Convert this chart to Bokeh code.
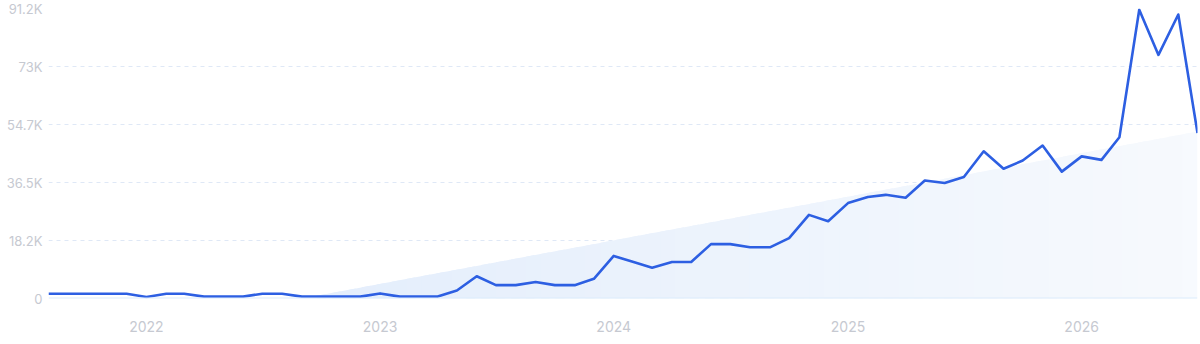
import pandas as pd
import numpy as np
from bokeh.plotting import figure
from bokeh.models import FixedTicker, Range1d, Span, CustomJSTickFormatter
from bokeh.embed import file_html
from bokeh.resources import INLINE

# ---- data ----
start_month = "2021-08-01"
values = [1500, 1500, 1500, 1500, 1500,
          500, 1500, 1500, 600, 600, 600, 1500, 1500, 600, 600, 600, 600,
          1600, 600, 600, 600, 2500, 7000, 4200, 4200, 5200, 4200, 4200, 6200,
          13400, 11500, 9700, 11500, 11500, 17100, 17100, 16100, 16100, 19000, 26300, 24300,
          30000, 31900, 32600, 31700, 37100, 36300, 38200, 46300, 40800, 43400, 48100, 39900,
          44700, 43600, 50700, 90800, 76600, 89300, 52000]
months = pd.date_range(start_month, periods=len(values), freq="MS")

trend_dates = ["2022-09-01", "2026-07-01"]
trend_values = [0, 52500]

y_ticks = [0, 18240, 36480, 54720, 72960, 91200]
y_labels = ["0", "18.2K", "36.5K", "54.7K", "73K", "91.2K"]
x_tick_dates = ["2022-01-01", "2023-01-01", "2024-01-01", "2025-01-01", "2026-01-01"]
x_labels = ["2022", "2023", "2024", "2025", "2026"]

# ---- figure ----
p = figure(width=1200, height=344, x_axis_type="datetime",
           output_backend="svg", toolbar_location=None,
           min_border_left=48, min_border_right=3, min_border_top=8, min_border_bottom=46)
p.x_range = Range1d(months[0], months[-1])
p.y_range = Range1d(0, 91200)
p.outline_line_color = None
p.background_fill_color = "white"
p.border_fill_color = "white"

# gradient-like trend fill via strips
t0 = pd.Timestamp(trend_dates[0]).value / 1e6
t1 = pd.Timestamp(trend_dates[1]).value / 1e6
N = 60
c0 = np.array([0xe4, 0xee, 0xfc])
c1 = np.array([0xf7, 0xfa, 0xfe])
edges = np.linspace(t0, t1, N + 1)
w = edges[1] - edges[0]
for i in range(N):
    a = edges[i]
    b = min(edges[i + 1] + w * 0.6, t1)
    ya = trend_values[0] + (trend_values[1] - trend_values[0]) * (a - t0) / (t1 - t0)
    yb = trend_values[0] + (trend_values[1] - trend_values[0]) * (b - t0) / (t1 - t0)
    f = i / (N - 1)
    c = (c0 + (c1 - c0) * f).astype(int)
    col = "#%02x%02x%02x" % tuple(c)
    p.varea(x=[a, b], y1=[0, 0], y2=[ya, yb], fill_color=col, fill_alpha=1.0)

p.add_layout(Span(location=0, dimension="width", line_color="#dcebfb", line_width=2))

p.line(months, values, line_color="#2d5fe2", line_width=2.6, line_join="round")

# axes
p.yaxis.ticker = FixedTicker(ticks=y_ticks)
p.yaxis.major_label_overrides = {t: l for t, l in zip(y_ticks, y_labels)}
xt = [pd.Timestamp(d).value / 1e6 for d in x_tick_dates]
p.xaxis.ticker = FixedTicker(ticks=xt)
p.xaxis.major_label_overrides = {t: l for t, l in zip(xt, x_labels)}

for ax in (p.xaxis, p.yaxis):
    ax.axis_line_color = None
    ax.major_tick_line_color = None
    ax.minor_tick_line_color = None
    ax.major_tick_in = 0
    ax.major_tick_out = 0
    ax.major_label_text_color = "#c6c9d1"
    ax.major_label_text_font = "Inter"
    ax.major_label_text_font_size = "13px"
p.xaxis.major_label_text_font_size = "14px"
p.yaxis.major_label_standoff = 6
p.xaxis.major_label_standoff = 22

p.xgrid.grid_line_color = None
p.ygrid.grid_line_color = "#dfe8f6"
p.ygrid.grid_line_dash = "4 4"
p.ygrid.grid_line_width = 1

open("out.html", "w").write(file_html(p, INLINE))
